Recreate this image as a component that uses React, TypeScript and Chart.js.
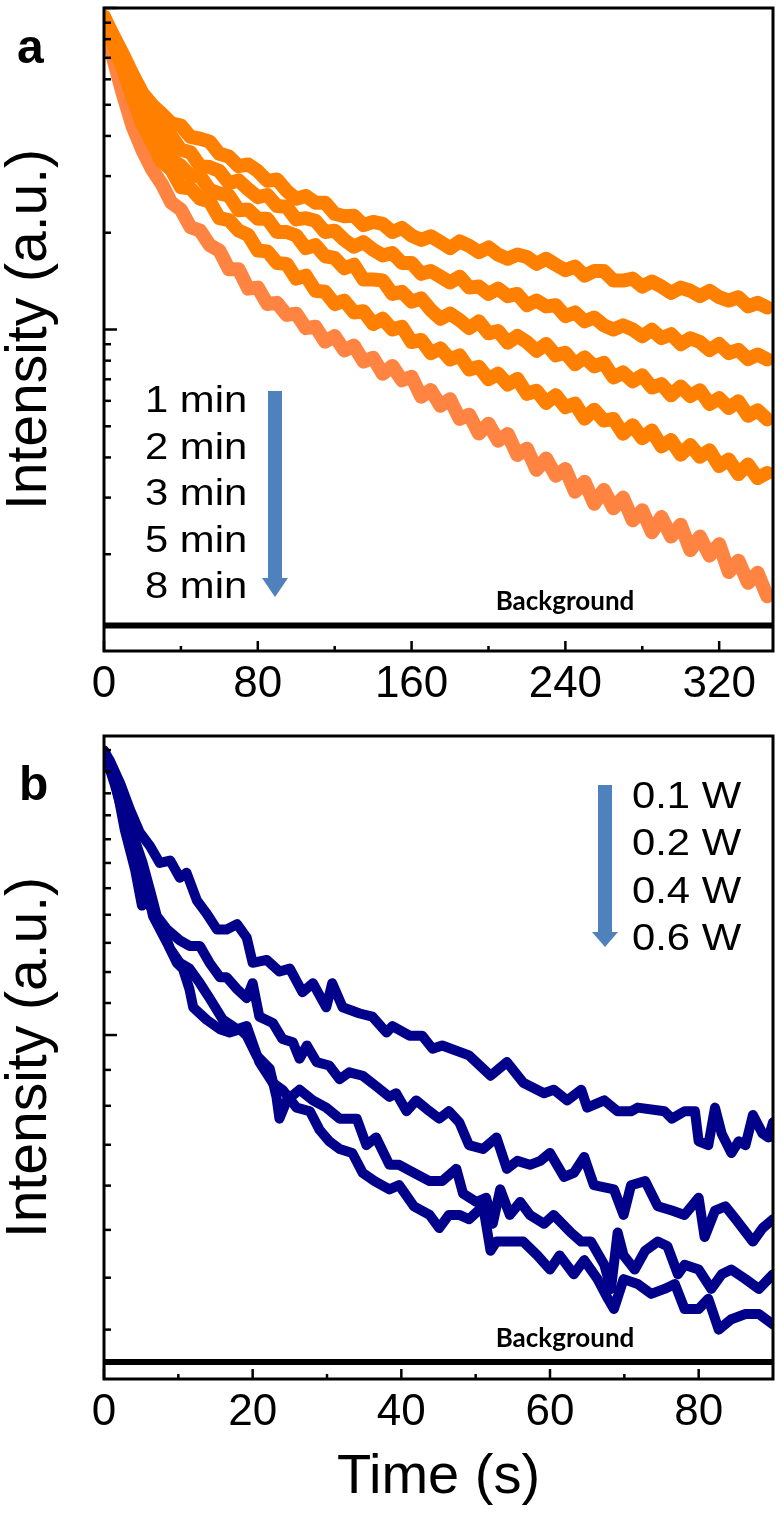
import React, { useEffect, useRef } from "react";
import { Chart, registerables } from "chart.js";

Chart.register(...registerables);

// ---------------- Panel a : intensity vs time (s), log y ----------------
const TIME_A = [0,5,10,15,20,25,30,35,40,45,50,55,60,65,70,75,80,85,90,95,100,105,110,115,120,125,130,135,140,145,150,155,160,165,170,175,180,185,190,195,200,205,210,215,220,225,230,235,240,245,250,255,260,265,270,275,280,285,290,295,300,305,310,315,320,325,330,335,340,345];
const A_1MIN = [9.38,8.18,7.14,6.20,5.43,5.00,4.69,4.38,4.31,3.97,3.92,3.84,3.52,3.45,3.22,3.26,3.11,2.90,2.93,2.70,2.55,2.60,2.48,2.48,2.29,2.25,2.26,2.11,2.16,2.13,2.01,2.07,1.96,1.90,1.95,1.87,1.79,1.88,1.82,1.74,1.80,1.71,1.66,1.71,1.68,1.60,1.66,1.59,1.53,1.57,1.47,1.52,1.52,1.42,1.42,1.44,1.36,1.41,1.36,1.30,1.35,1.32,1.27,1.32,1.26,1.23,1.26,1.18,1.21,1.17];
const A_2MIN = [9.38,8.00,6.84,5.85,4.99,4.58,4.15,4.00,3.62,3.56,3.22,3.20,3.11,2.85,2.91,2.73,2.58,2.62,2.42,2.41,2.20,2.22,2.18,2.01,2.03,1.90,1.81,1.87,1.77,1.70,1.73,1.61,1.61,1.49,1.52,1.46,1.40,1.46,1.35,1.36,1.29,1.34,1.27,1.29,1.19,1.23,1.18,1.19,1.10,1.13,1.06,1.09,1.03,1.00,1.03,1.00,0.952,0.999,0.940,0.967,0.900,0.939,0.914,0.863,0.901,0.844,0.864,0.809,0.836,0.807];
const A_3MIN = [9.38,7.85,6.64,5.55,4.67,4.18,3.78,3.37,3.23,3.01,3.00,2.72,2.65,2.61,2.35,2.36,2.21,2.21,2.01,2.01,1.96,1.79,1.83,1.69,1.67,1.55,1.59,1.43,1.43,1.42,1.29,1.31,1.22,1.25,1.15,1.08,1.12,1.07,1.01,1.06,0.973,0.989,0.910,0.955,0.914,0.858,0.901,0.831,0.847,0.780,0.819,0.768,0.787,0.709,0.735,0.690,0.720,0.660,0.676,0.624,0.665,0.621,0.647,0.586,0.611,0.570,0.598,0.539,0.560,0.525];
const A_5MIN = [9.38,7.70,6.41,5.25,4.35,3.82,3.33,3.14,2.77,2.75,2.55,2.50,2.22,2.19,2.03,1.97,1.76,1.75,1.61,1.60,1.44,1.47,1.32,1.31,1.20,1.23,1.13,1.14,1.04,1.08,1.00,1.02,0.914,0.928,0.844,0.873,0.807,0.830,0.751,0.766,0.700,0.729,0.674,0.702,0.631,0.645,0.591,0.625,0.573,0.588,0.528,0.563,0.521,0.527,0.474,0.504,0.459,0.485,0.433,0.453,0.408,0.437,0.402,0.421,0.376,0.394,0.355,0.380,0.345,0.358];
const A_8MIN = [9.38,6.90,5.35,4.26,3.61,3.15,2.84,2.48,2.36,2.08,2.03,1.83,1.76,1.54,1.54,1.34,1.35,1.20,1.21,1.11,1.12,1.01,1.02,0.917,0.954,0.861,0.891,0.795,0.817,0.728,0.770,0.695,0.713,0.618,0.648,0.579,0.607,0.527,0.543,0.475,0.509,0.451,0.473,0.407,0.426,0.366,0.397,0.351,0.368,0.313,0.336,0.287,0.317,0.278,0.300,0.255,0.274,0.234,0.261,0.227,0.247,0.206,0.227,0.198,0.215,0.176,0.191,0.163,0.175,0.148];
const A_LEGEND = ["1 min", "2 min", "3 min", "5 min", "8 min"];
const A_BACKGROUND = 0.12;
const A_X_MIN = 0;
const A_X_MAX = 348;
const A_Y_MIN = 0.1;
const A_Y_MAX = 10;
const A_X_MAJOR = [0, 80, 160, 240, 320];
const A_X_MINOR = [40, 120, 200, 280];
const A_Y_MAJOR = [1, 10];
const A_Y_MINOR = [0.2, 0.3, 0.4, 0.5, 0.6, 0.7, 0.8, 0.9, 2, 3, 4, 5, 6, 7, 8, 9];

// ---------------- Panel b : intensity vs time (s), log y ----------------
const B_01W_T = [0,0.8,2.2,3.5,4.8,6.2,7.5,8.9,10.2,11.1,12.5,13.8,15.2,16.5,17.9,19.2,20.0,21.9,23.6,25.0,26.7,28.1,29.9,30.7,32.1,34.4,36.1,38.0,38.8,41.1,42.8,44.2,45.5,49.1,52.0,54.2,56.4,59.2,60.5,62.3,64.2,65.0,67.3,69.1,70.9,71.8,75.4,76.4,78.1,79.5,80.0,81.3,82.2,83.1,84.4,85.4,86.3,87.3,88.6,89.4,90.0];
const B_01W_V = [2.99,2.94,2.83,2.71,2.61,2.55,2.48,2.49,2.42,2.44,2.33,2.28,2.22,2.22,2.24,2.19,2.10,2.11,2.07,2.08,2.00,2.03,1.95,2.03,1.95,1.93,1.92,1.87,1.89,1.86,1.86,1.82,1.83,1.80,1.74,1.78,1.72,1.69,1.70,1.67,1.70,1.65,1.67,1.64,1.64,1.65,1.64,1.62,1.64,1.64,1.56,1.55,1.65,1.58,1.53,1.56,1.55,1.63,1.58,1.57,1.61];
const B_02W_T = [0,1.5,2.8,3.9,5.2,6.2,7.1,8.5,10.2,11.5,12.9,14.2,15.6,16.5,17.9,19.2,20.0,20.9,22.7,24.0,25.4,26.3,27.3,28.6,30.3,31.7,33.0,34.8,36.6,38.4,39.3,40.7,42.0,43.8,45.1,46.4,47.8,49.1,51.0,52.8,54.2,55.6,57.3,58.7,60.0,61.9,63.2,64.6,65.9,68.6,69.9,70.9,72.8,74.5,76.4,78.1,80.0,80.8,82.2,83.6,85.0,87.3,88.6,90.0];
const B_02W_V = [2.99,2.83,2.70,2.60,2.48,2.37,2.27,2.22,2.18,2.16,2.16,2.10,2.05,2.05,2.01,1.98,2.03,1.92,1.90,1.85,1.84,1.79,1.83,1.78,1.77,1.73,1.75,1.74,1.71,1.68,1.69,1.64,1.67,1.64,1.62,1.64,1.61,1.55,1.54,1.57,1.49,1.51,1.50,1.51,1.53,1.47,1.48,1.52,1.45,1.44,1.38,1.45,1.46,1.40,1.39,1.38,1.42,1.33,1.39,1.40,1.37,1.32,1.35,1.37];
const B_04W_T = [0,1.5,2.8,4.2,5.5,6.6,8.5,9.8,10.6,11.5,12.0,13.8,15.6,16.9,18.3,19.2,20.5,22.3,23.2,23.6,24.6,26.3,28.1,29.9,31.7,34.0,35.3,36.6,38.4,39.7,41.7,43.8,45.5,47.4,48.3,50.1,51.4,52.3,53.3,54.6,56.0,57.3,59.2,60.5,62.8,64.2,65.5,67.3,68.2,69.1,69.9,71.4,72.8,74.5,75.8,77.2,78.1,80.0,81.7,83.1,84.4,86.3,88.1,90.0];
const B_04W_V = [2.99,2.82,2.66,2.53,2.41,2.27,2.17,2.10,2.08,2.01,1.95,1.91,1.88,1.87,1.88,1.86,1.80,1.76,1.68,1.62,1.67,1.70,1.67,1.65,1.62,1.62,1.55,1.57,1.50,1.50,1.48,1.46,1.46,1.49,1.43,1.41,1.42,1.36,1.44,1.38,1.41,1.38,1.36,1.38,1.34,1.32,1.32,1.27,1.22,1.34,1.29,1.26,1.30,1.32,1.31,1.25,1.27,1.26,1.22,1.25,1.26,1.24,1.22,1.25];
const B_06W_T = [0,1.5,2.8,4.2,5.1,5.8,7.9,8.9,10.2,11.5,12.9,14.2,16.0,17.9,19.2,20.9,22.7,24.0,25.9,27.7,29.0,30.3,31.7,33.4,34.8,36.4,38.4,39.7,41.7,43.8,45.1,46.4,47.8,49.1,51.0,52.0,52.8,54.6,56.4,58.3,60.0,61.3,63.2,64.6,66.4,67.8,68.6,69.9,71.8,73.6,75.4,76.8,78.1,80.0,81.3,82.7,84.4,86.3,88.1,90.0];
const B_06W_V = [2.99,2.85,2.62,2.45,2.31,2.33,2.22,2.15,2.10,2.08,2.03,1.98,1.91,1.88,1.89,1.78,1.72,1.70,1.65,1.64,1.59,1.56,1.54,1.53,1.48,1.46,1.44,1.45,1.40,1.38,1.35,1.38,1.38,1.37,1.40,1.30,1.32,1.32,1.32,1.29,1.26,1.29,1.25,1.28,1.24,1.20,1.18,1.24,1.23,1.21,1.22,1.23,1.18,1.18,1.20,1.14,1.16,1.17,1.17,1.15];
const B_LEGEND = ["0.1 W", "0.2 W", "0.4 W", "0.6 W"];
const B_BACKGROUND = 1.08;
const B_X_MIN = 0;
const B_X_MAX = 90;
const B_Y_MIN = 1.05;
const B_Y_MAX = 3.064;
const B_X_MAJOR = [0, 20, 40, 60, 80];
const B_X_MINOR = [10, 30, 50, 70];
const B_Y_MAJOR = [1.862];
const B_Y_MINOR = [1.14,1.243,1.346,1.449,1.551,1.655,1.757,1.964,2.068,2.171,2.275,2.378,2.48,2.58,2.685,2.785,2.888,2.993];

const ORANGE = "#FF8000";
const ORANGE_LIGHT = "#FF8442";
const NAVY = "#00008B";
const ARROW_BLUE = "#4F81BD";
const SANS = "'Liberation Sans', Arial, sans-serif";

type Decor = {
  xMajor: number[];
  xMinor: number[];
  yMajor: number[];
  yMinor: number[];
  letter: string;
  letterX: number;
  letterY: number;
  legend: string[];
  legendX: number;
  legendY0: number;
  legendDy: number;
  arrowX: number;
  arrowTop: number;
  arrowTip: number;
  arrowHeadH: number;
  bgTextY: number;
};

function makeDecor(d: Decor) {
  return {
    id: "decor",
    afterDraw(chart: any) {
      const ctx: CanvasRenderingContext2D = chart.ctx;
      const a = chart.chartArea;
      const xs = chart.scales.x;
      const ys = chart.scales.y;
      ctx.save();
      ctx.strokeStyle = "#000";
      ctx.lineCap = "butt";
      ctx.lineWidth = 2.5;
      const xt = (v: number, len: number) => {
        const p = xs.getPixelForValue(v);
        ctx.beginPath();
        ctx.moveTo(p, a.bottom);
        ctx.lineTo(p, a.bottom - len);
        ctx.stroke();
      };
      const yt = (v: number, len: number) => {
        const p = ys.getPixelForValue(v);
        ctx.beginPath();
        ctx.moveTo(a.left, p);
        ctx.lineTo(a.left + len, p);
        ctx.stroke();
      };
      d.xMajor.forEach((v) => xt(v, 10));
      d.xMinor.forEach((v) => xt(v, 5));
      d.yMajor.forEach((v) => yt(v, 13));
      d.yMinor.forEach((v) => yt(v, 7));
      ctx.lineWidth = 3;
      ctx.strokeRect(a.left, a.top, a.right - a.left, a.bottom - a.top);

      ctx.fillStyle = "#000";
      ctx.textBaseline = "alphabetic";
      ctx.textAlign = "left";
      ctx.font = `bold 48px ${SANS}`;
      ctx.fillText(d.letter, d.letterX, d.letterY);

      ctx.font = `37px ${SANS}`;
      d.legend.forEach((t, i) => {
        ctx.save();
        ctx.translate(d.legendX, d.legendY0 + i * d.legendDy);
        ctx.scale(1.13, 1);
        ctx.fillText(t, 0, 0);
        ctx.restore();
      });

      ctx.fillStyle = ARROW_BLUE;
      const sw = 14;
      const hw = 26;
      const headTop = d.arrowTip - d.arrowHeadH;
      ctx.fillRect(d.arrowX - sw / 2, d.arrowTop, sw, headTop - d.arrowTop);
      ctx.beginPath();
      ctx.moveTo(d.arrowX - hw / 2, headTop);
      ctx.lineTo(d.arrowX + hw / 2, headTop);
      ctx.lineTo(d.arrowX, d.arrowTip);
      ctx.closePath();
      ctx.fill();

      ctx.fillStyle = "#000";
      ctx.textAlign = "center";
      ctx.font = `bold 26px Lato, 'Open Sans', sans-serif`;
      ctx.fillText("Background", 565, d.bgTextY);
      ctx.restore();
    },
  };
}

function zip(t: number[], v: number[]) {
  return t.map((x, i) => ({ x, y: v[i] }));
}

function lineDs(data: any[], color: string, width: number) {
  return {
    data,
    borderColor: color,
    backgroundColor: color,
    borderWidth: width,
    pointRadius: 0,
    tension: 0,
    fill: false,
    borderJoinStyle: "round" as const,
    borderCapStyle: "round" as const,
  };
}

function baseOptions(opts: {
  padTop: number;
  xAxisH: number;
  xMin: number;
  xMax: number;
  yMin: number;
  yMax: number;
  xMajor: number[];
  xTitle?: string;
}) {
  return {
    animation: false as const,
    responsive: false,
    maintainAspectRatio: false,
    devicePixelRatio: 1,
    layout: { padding: { top: opts.padTop, right: 9, left: 0, bottom: 0 } },
    plugins: { legend: { display: false }, tooltip: { enabled: false }, title: { display: false } },
    scales: {
      x: {
        type: "linear" as const,
        position: "bottom" as const,
        min: opts.xMin,
        max: opts.xMax,
        grid: { display: false, drawTicks: false },
        border: { display: false },
        ticks: {
          color: "#000",
          font: { family: SANS, size: 44 },
          padding: 7,
          maxRotation: 0,
          minRotation: 0,
          autoSkip: false,
        },
        title: opts.xTitle
          ? {
              display: true,
              text: opts.xTitle,
              color: "#000",
              font: { family: SANS, size: 56, lineHeight: 1 },
              padding: { top: 0, bottom: 11 },
            }
          : { display: false },
        afterBuildTicks: (s: any) => {
          s.ticks = opts.xMajor.map((v) => ({ value: v }));
        },
        afterFit: (s: any) => {
          s.height = opts.xAxisH;
        },
      },
      y: {
        type: "logarithmic" as const,
        position: "left" as const,
        min: opts.yMin,
        max: opts.yMax,
        grid: { display: false, drawTicks: false },
        border: { display: false },
        ticks: { display: false },
        title: {
          display: true,
          text: "Intensity (a.u.)",
          color: "#000",
          font: { family: SANS, size: 57, lineHeight: 1 },
          padding: { top: 2, bottom: 0 },
        },
        afterFit: (s: any) => {
          s.width = 104;
        },
      },
    },
  };
}

export default function App() {
  const refA = useRef<HTMLCanvasElement | null>(null);
  const refB = useRef<HTMLCanvasElement | null>(null);

  useEffect(() => {
    if (!refA.current || !refB.current) return;

    const chartA = new Chart(refA.current, {
      type: "line",
      data: {
        datasets: [
          { ...lineDs([{ x: A_X_MIN, y: A_BACKGROUND }, { x: A_X_MAX, y: A_BACKGROUND }], "#000", 6), borderCapStyle: "butt" },
          lineDs(zip(TIME_A, A_1MIN), ORANGE, 14),
          lineDs(zip(TIME_A, A_2MIN), ORANGE, 14),
          lineDs(zip(TIME_A, A_3MIN), ORANGE, 14),
          lineDs(zip(TIME_A, A_5MIN), ORANGE, 14),
          lineDs(zip(TIME_A, A_8MIN), ORANGE_LIGHT, 14),
        ],
      },
      options: baseOptions({
        padTop: 8,
        xAxisH: 69,
        xMin: A_X_MIN,
        xMax: A_X_MAX,
        yMin: A_Y_MIN,
        yMax: A_Y_MAX,
        xMajor: A_X_MAJOR,
      }) as any,
      plugins: [
        makeDecor({
          xMajor: A_X_MAJOR,
          xMinor: A_X_MINOR,
          yMajor: A_Y_MAJOR,
          yMinor: A_Y_MINOR,
          letter: "a",
          letterX: 17,
          letterY: 63,
          legend: A_LEGEND,
          legendX: 145,
          legendY0: 412,
          legendDy: 46.5,
          arrowX: 275,
          arrowTop: 391,
          arrowTip: 597,
          arrowHeadH: 19,
          bgTextY: 610,
        }),
      ],
    });

    const chartB = new Chart(refB.current, {
      type: "line",
      data: {
        datasets: [
          { ...lineDs([{ x: B_X_MIN, y: B_BACKGROUND }, { x: B_X_MAX, y: B_BACKGROUND }], "#000", 6), borderCapStyle: "butt" },
          lineDs(zip(B_01W_T, B_01W_V), NAVY, 10),
          lineDs(zip(B_02W_T, B_02W_V), NAVY, 10),
          lineDs(zip(B_04W_T, B_04W_V), NAVY, 10),
          lineDs(zip(B_06W_T, B_06W_V), NAVY, 10),
        ],
      },
      options: baseOptions({
        padTop: 16,
        xAxisH: 138,
        xMin: B_X_MIN,
        xMax: B_X_MAX,
        yMin: B_Y_MIN,
        yMax: B_Y_MAX,
        xMajor: B_X_MAJOR,
        xTitle: "Time (s)",
      }) as any,
      plugins: [
        makeDecor({
          xMajor: B_X_MAJOR,
          xMinor: B_X_MINOR,
          yMajor: B_Y_MAJOR,
          yMinor: B_Y_MINOR,
          letter: "b",
          letterX: 19,
          letterY: 80,
          legend: B_LEGEND,
          legendX: 632,
          legendY0: 88,
          legendDy: 47.3,
          arrowX: 605,
          arrowTop: 65,
          arrowTip: 227,
          arrowHeadH: 15,
          bgTextY: 627,
        }),
      ],
    });

    return () => {
      chartA.destroy();
      chartB.destroy();
    };
  }, []);

  return (
    <div style={{ position: "absolute", left: 0, top: 0, width: 782, height: 1517, background: "#fff" }}>
      <canvas
        ref={refA}
        width={782}
        height={720}
        style={{ position: "absolute", left: 0, top: 0, width: 782, height: 720, display: "block" }}
      />
      <canvas
        ref={refB}
        width={782}
        height={797}
        style={{ position: "absolute", left: 0, top: 720, width: 782, height: 797, display: "block" }}
      />
    </div>
  );
}
